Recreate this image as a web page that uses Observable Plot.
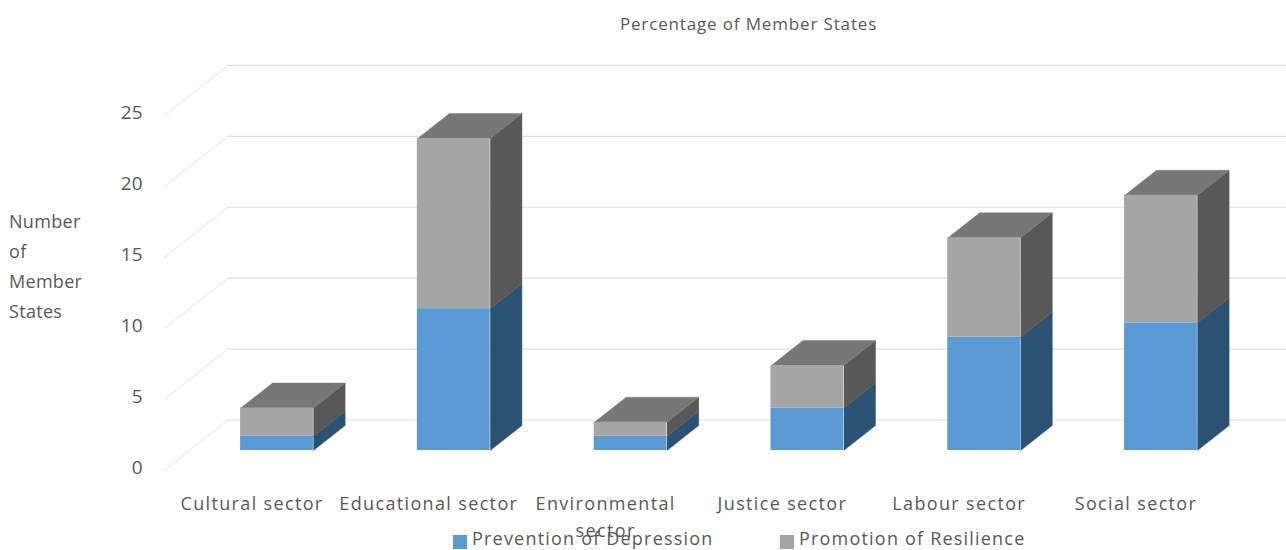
<!DOCTYPE html>
<html>
<head>
<meta charset="utf-8">
<script src="https://cdn.jsdelivr.net/npm/d3@7"></script>
<script src="https://cdn.jsdelivr.net/npm/@observablehq/plot@0.6"></script>
<style>
  html, body { margin: 0; padding: 0; background: #fff; }
  #wrap { position: relative; width: 1286px; height: 550px; overflow: hidden; font-family: "Open Sans", sans-serif; color: #595959; }
  #legend { position: absolute; left: 0; top: 0; width: 1286px; height: 550px; pointer-events: none; }
  .key { position: absolute; top: 526px; font-size: 18px; line-height: 24px; letter-spacing: 1.2px; white-space: nowrap; }
  .key i { display: inline-block; width: 14px; height: 14px; margin-right: 5px; vertical-align: -4px; }
  g[aria-label="x-axis tick label"] text { letter-spacing: 1.35px; }
  g[aria-label="text"] text { letter-spacing: 0.85px; }
</style>
</head>
<body>
<div id="wrap"><div id="legend"></div></div>
<script>
const categories = ["Cultural sector", "Educational sector", "Environmental\nsector", "Justice sector", "Labour sector", "Social sector"];
const prevention = [1, 10, 1, 3, 8, 9];
const resilience = [2, 12, 1, 3, 7, 9];
const tickValues = [0, 5, 10, 15, 20, 25];
const seriesNames = ["Prevention of Depression", "Promotion of Resilience"];
const chartTitle = "Percentage of Member States";
const yLabelLines = ["Number", "of", "Member", "States"];

// Oblique projection: one unit of depth moves right (category units) and up (value units)
const depthX = 0.359, depthY = 3.526;
const barHalf = 0.206, barDepth = 0.5;
const floorZ = -0.39, wallZ = 0.61, leftX = -0.636;

const colors = {
  front: ["#5b9bd5", "#a5a5a5"],
  side: ["#2c5273", "#585858"],
  top: "#777777",
  grid: "#dfdfdf"
};

const fronts = [], polys = [];
function poly(face, fill, corners) {
  corners.forEach(([x, y]) => polys.push({face, fill, x, y}));
}
categories.forEach((c, i) => {
  let base = 0;
  [prevention, resilience].forEach((s, k) => {
    const top = base + s[i];
    const x1 = i - barHalf, x2 = i + barHalf;
    const bx = barDepth * depthX, by = barDepth * depthY;
    fronts.push({x1, x2, y1: base, y2: top, fill: colors.front[k]});
    poly(`side-${i}-${k}`, colors.side[k], [[x2, base], [x2 + bx, base + by], [x2 + bx, top + by], [x2, top]]);
    if (k === 1) poly(`top-${i}`, colors.top, [[x1, top], [x2, top], [x2 + bx, top + by], [x1 + bx, top + by]]);
    base = top;
  });
});

const xDomain = [-1.564, 5.71], yDomain = [-7.05, 31.73];
const diag = tickValues.flatMap(v => [
  {v, x: leftX, y: v + floorZ * depthY},
  {v, x: leftX + depthX, y: v + wallZ * depthY}
]);
const wall = tickValues.flatMap(v => [
  {v, x: leftX + depthX, y: v + wallZ * depthY},
  {v, x: xDomain[1], y: v + wallZ * depthY}
]);

const font = '"Open Sans", sans-serif';
const plot = Plot.plot({
  width: 1286, height: 550,
  margin: 0,
  style: {background: "transparent", fontFamily: font, color: "#595959"},
  x: {domain: xDomain, range: [0, 1286], axis: null},
  y: {domain: yDomain, range: [550, 0], axis: null},
  marks: [
    Plot.line(diag, {x: "x", y: "y", z: "v", stroke: colors.grid, strokeWidth: 0.8}),
    Plot.line(wall, {x: "x", y: "y", z: "v", stroke: colors.grid, strokeWidth: 1.2}),
    Plot.line(polys, {x: "x", y: "y", z: "face", fill: "fill", stroke: "fill", strokeWidth: 0.4}),
    Plot.rect(fronts, {x1: "x1", x2: "x2", y1: "y1", y2: "y2", fill: "fill"}),
    Plot.axisY({
      ticks: tickValues, tickSize: 0, anchor: "left", label: null,
      dx: 151, dy: 17, textAnchor: "end", fontSize: 19, fill: "#595959"
    }),
    Plot.axisX({
      ticks: d3.range(categories.length), tickSize: 0, anchor: "bottom", label: null,
      tickFormat: i => categories[i], dx: -25, dy: -69, lineHeight: 1.5,
      lineAnchor: "top", fontSize: 18, fill: "#595959"
    }),
    Plot.text([chartTitle], {frameAnchor: "top", dx: 105, dy: 17, fontSize: 17, fill: "#595959", text: d => d})
  ]
});
document.getElementById("wrap").prepend(plot);

const label = d3.select("#legend");
yLabelLines.forEach((t, i) => {
  label.append("div").text(t)
    .style("position", "absolute").style("left", "9px").style("top", (209 + i * 30) + "px")
    .style("font-size", "18px").style("line-height", "24px").style("letter-spacing", "0.3px");
});
[453, 780].forEach((left, k) => {
  const key = label.append("div").attr("class", "key").style("left", left + "px");
  key.append("i").style("background", colors.front[k]);
  key.append("span").text(seriesNames[k]);
});
</script>
</body>
</html>
